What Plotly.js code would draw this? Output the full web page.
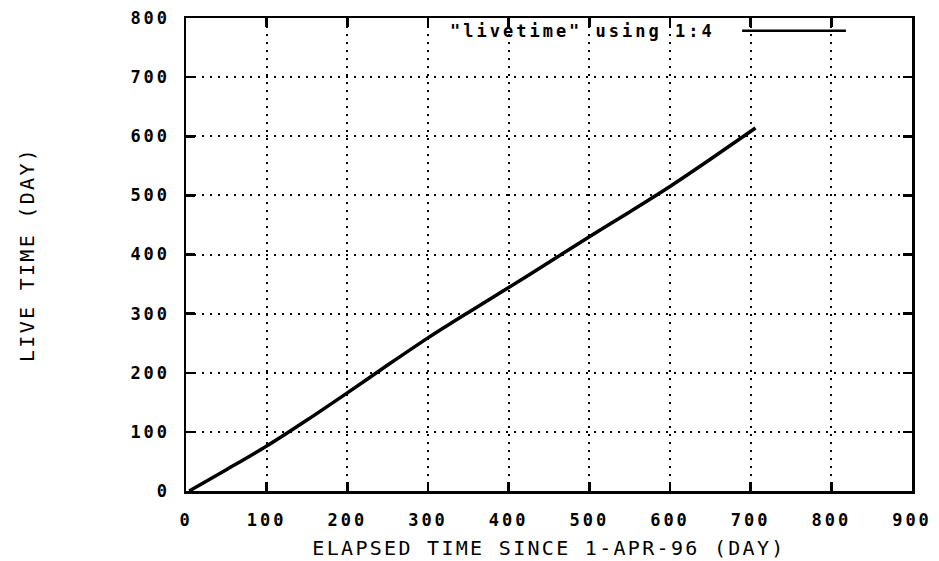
<!DOCTYPE html>
<html>
<head>
<meta charset="utf-8">
<script src="https://cdn.plot.ly/plotly-3.0.1.min.js"></script>
<style>
html,body{margin:0;padding:0;background:#fff;}
#chart{width:939px;height:561px;}
#chart .xtick text, #chart .ytick text, #chart .annotation-text-g text{letter-spacing:3px;}
#chart text.xtitle, #chart text.ytitle{letter-spacing:2.3px;}
</style>
</head>
<body>
<div id="chart"></div>
<script>
// Data
var elapsedDays = [4, 50, 100, 150, 200, 250, 300, 350, 400, 450, 500, 550, 600, 650, 706];
var liveDays    = [0, 36, 76, 120, 166, 213, 259, 302, 344, 387, 430, 472, 515, 561, 614];
var xTickVals = [0, 100, 200, 300, 400, 500, 600, 700, 800, 900];
var yTickVals = [0, 100, 200, 300, 400, 500, 600, 700, 800];
var seriesName = '"livetime" using 1:4';
var xTitle = 'ELAPSED TIME SINCE 1-APR-96 (DAY)';
var yTitle = 'LIVE TIME (DAY)';

var tickFont = {family: 'DejaVu Sans Mono, monospace', size: 17, color: '#000', weight: 'bold'};
var titleFont = {family: 'DejaVu Sans Mono, monospace', size: 20, color: '#000', weight: 'normal'};

var trace = {
  x: elapsedDays, y: liveDays, type: 'scatter', mode: 'lines',
  name: seriesName, line: {color: '#000', width: 3.5, shape: 'spline', smoothing: 0.8}, showlegend: false
};

var axisCommon = {
  showline: true, linecolor: '#000', linewidth: 2.5, mirror: 'ticks',
  ticks: 'inside', ticklen: 9, tickwidth: 2.5, tickcolor: '#000',
  showgrid: true, gridcolor: '#000', gridwidth: 2, griddash: '2px,6px',
  zeroline: false, tickfont: tickFont, fixedrange: true
};

var layout = {
  width: 939, height: 561,
  margin: {l: 186, r: 27, t: 18, b: 70},
  paper_bgcolor: '#fff', plot_bgcolor: '#fff',
  font: tickFont,
  xaxis: Object.assign({}, axisCommon, {
    range: [0, 900], tickvals: xTickVals, ticktext: xTickVals.map(String),
    ticklabelstandoff: 12,
    title: {text: xTitle, font: titleFont, standoff: 12}
  }),
  yaxis: Object.assign({}, axisCommon, {
    range: [0, 800], tickvals: yTickVals, ticktext: yTickVals.map(String),
    ticklabelstandoff: 10,
    title: {text: yTitle, font: titleFont, standoff: 100}
  }),
  annotations: [{
    xref: 'paper', yref: 'paper', x: 0.69, y: 0.973, xanchor: 'right', yanchor: 'middle',
    text: seriesName, showarrow: false, font: tickFont
  }],
  shapes: [{
    type: 'line', xref: 'paper', yref: 'paper', x0: 0.766, x1: 0.909, y0: 0.973, y1: 0.973,
    line: {color: '#000', width: 2.5}
  }]
};

Plotly.newPlot('chart', [trace], layout, {displayModeBar: false, staticPlot: true});
</script>
</body>
</html>
